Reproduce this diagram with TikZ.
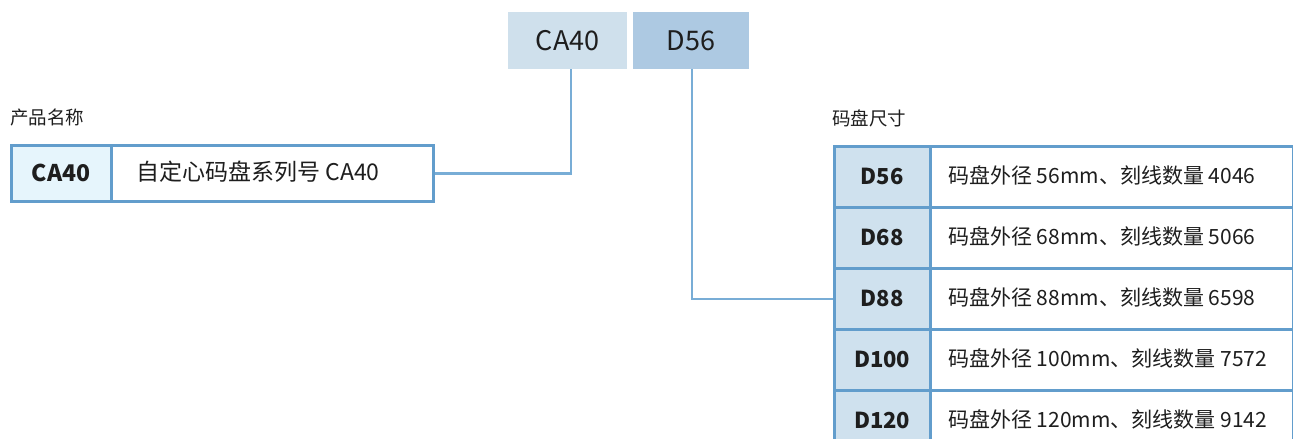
\documentclass[tikz,border=0pt]{standalone}
\usepackage{fontspec}
\setmainfont{Noto Sans CJK SC}
\definecolor{txt}{HTML}{1E1E1E}
\definecolor{topA}{HTML}{CFE0EC}
\definecolor{topB}{HTML}{ADC9E2}
\definecolor{hdrL}{HTML}{E6F5FC}
\definecolor{hdrR}{HTML}{CFE1EE}
\definecolor{bord}{HTML}{629DCC}
\definecolor{conn}{HTML}{78ADD6}
\begin{document}
\begin{tikzpicture}[x=1pt,y=-1pt,
  topbox/.style={anchor=north west,inner sep=0pt,minimum height=57pt,text=txt,font=\fontsize{27}{30}\selectfont},
  keycell/.style={anchor=north west,draw=bord,line width=2.5pt,inner sep=0pt,text=txt,font=\bfseries\fontsize{22}{26}\selectfont},
  valcell/.style={anchor=north west,draw=bord,line width=2.5pt,fill=white,inner sep=0pt,text=txt,font=\fontsize{21}{26}\selectfont},
  grouplabel/.style={anchor=west,inner sep=0pt,text=txt,font=\fontsize{18.5}{22}\selectfont},
  link/.style={draw=conn,line width=2.5pt}]
\useasboundingbox (0,0) rectangle (1293,439);
% top code boxes
\node[topbox,fill=topA,minimum width=119pt] (ca) at (508,12) {CA40};
\node[topbox,fill=topB,minimum width=116pt] (d56) at (633,12) {D56};
% product name
\node[grouplabel] (lblname) at (10,118) {产品名称};
\node[keycell,fill=hdrL,minimum width=100pt,minimum height=56pt,font=\bfseries\fontsize{23}{26}\selectfont] (namek) at (10,144) {CA40};
\node[valcell,minimum width=322pt,minimum height=56pt,font=\fontsize{23}{26}\selectfont] (namev) at (110,144) {};
\node[anchor=west,inner sep=0pt,text=txt,font=\fontsize{23}{26}\selectfont] (namet) at (136,172) {自定心码盘系列号 CA40};
% disc size
\node[grouplabel] (lblsize) at (832,118) {码盘尺寸};
\foreach \k/\v [count=\i from 0] in {D56/码盘外径 56mm、刻线数量 4046,D68/码盘外径 68mm、刻线数量 5066,D88/码盘外径 88mm、刻线数量 6598,D100/码盘外径 100mm、刻线数量 7572,D120/码盘外径 120mm、刻线数量 9142}{
  \node[keycell,fill=hdrR,minimum width=96pt,minimum height=61pt] (k\k) at (833,145+61*\i) {\k};
  \node[valcell,minimum width=363pt,minimum height=61pt] (v\k) at (929,145+61*\i) {};
  \node[anchor=west,inner sep=0pt,text=txt,font=\fontsize{21}{26}\selectfont] (t\k) at (948,175.5+61*\i) {\v};
}
% connectors
\draw[link] ([xshift=3.5pt]ca.south) |- (namev.east);
\draw[link] ([xshift=1pt]d56.south) |- (kD88.west);
\end{tikzpicture}
\end{document}
